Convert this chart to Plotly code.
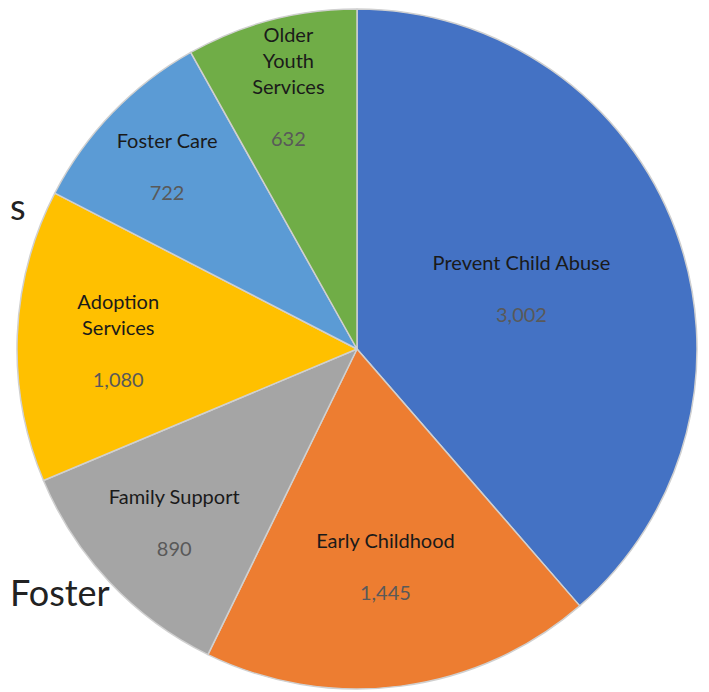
import plotly.graph_objects as go

categories = ["Prevent Child Abuse", "Early Childhood", "Family Support",
              "Adoption Services", "Foster Care", "Older Youth Services"]
display_labels = ["Prevent Child Abuse", "Early Childhood", "Family Support",
                  "Adoption<br>Services", "Foster Care", "Older<br>Youth<br>Services"]
values = [3002, 1445, 890, 1080, 722, 632]
colors = ["#4472C4", "#ED7D31", "#A5A5A5", "#FFC000", "#5B9BD5", "#70AD47"]

W, H = 709, 692
cx, cy, r = 349, 341, 340

fig = go.Figure(go.Pie(
    labels=categories,
    values=values,
    customdata=display_labels,
    sort=False,
    direction="clockwise",
    rotation=0,
    marker=dict(colors=colors, line=dict(color="#D0D0D0", width=1.5)),
    texttemplate="<span style='color:#1a1a1a'>%{customdata}</span><br><br><span style='color:#595959'>%{value:,}</span>",
    textposition="inside",
    insidetextorientation="horizontal",
    textfont=dict(family="Lato, Open Sans, sans-serif", size=20),
    hoverinfo="label+value",
    showlegend=False,
    domain=dict(x=[(cx - r) / W, (cx + r) / W],
                y=[1 - (cy + r) / H, 1 - (cy - r) / H]),
))

fig.add_annotation(text="s", x=0.0, y=1 - 198 / H, xref="paper", yref="paper",
                   xanchor="left", yanchor="middle", showarrow=False,
                   font=dict(family="Lato, sans-serif", size=36, color="#222222"))
fig.add_annotation(text="Foster", x=0.0, y=1 - 584 / H, xref="paper", yref="paper",
                   xanchor="left", yanchor="middle", showarrow=False,
                   font=dict(family="Lato, sans-serif", size=36, color="#222222"))

fig.update_layout(width=W, height=H, margin=dict(l=0, r=0, t=0, b=0),
                  uniformtext=dict(minsize=20, mode="show"),
                  paper_bgcolor="white", plot_bgcolor="white")
fig.write_html("out.html")
